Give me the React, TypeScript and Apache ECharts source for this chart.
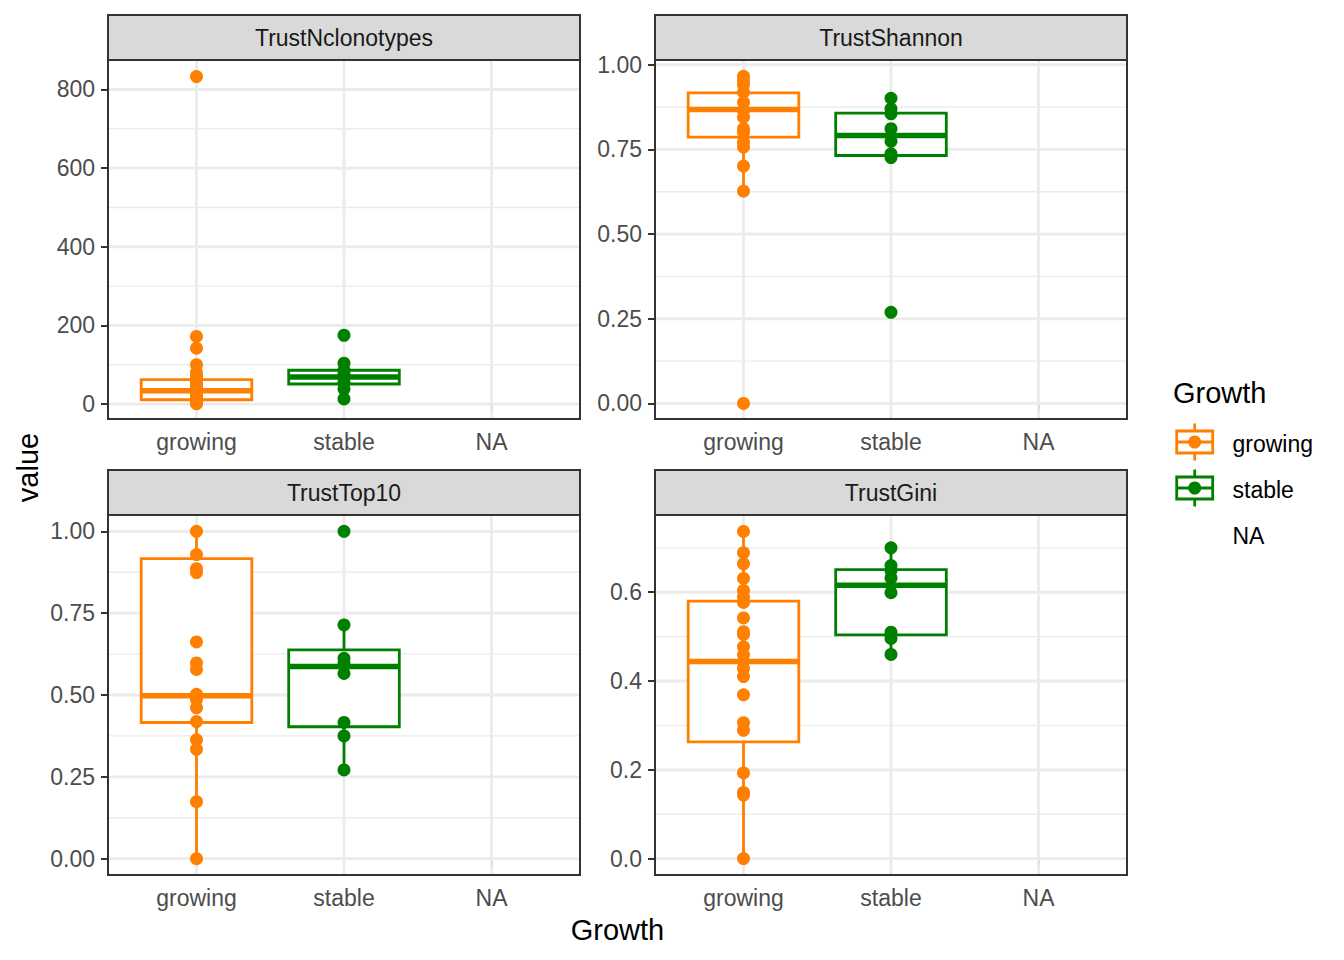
import React, { useEffect, useRef } from "react";
import * as echarts from "echarts";

const categories = ["growing", "stable", "NA"];
const panelTitles = ["TrustNclonotypes", "TrustShannon", "TrustTop10", "TrustGini"];
const groupNames = ["growing", "stable"];
const groupColors = ["#FF7F00", "#008000"];

// individual observations per panel and group
const nclonoGrowing = [833, 172, 142, 100, 80, 72, 64, 56, 48, 42, 37, 34, 30, 25, 20, 15, 11, 8, 6, 4, 2, 1];
const nclonoStable = [175, 104, 86, 76, 66, 54, 38, 13];
const shannonGrowing = [0.966, 0.953, 0.941, 0.919, 0.889, 0.865, 0.845, 0.811, 0.801, 0.771, 0.757, 0.701, 0.627, 0.0];
const shannonStable = [0.901, 0.87, 0.855, 0.811, 0.774, 0.737, 0.726, 0.269];
const top10Growing = [1.0, 0.929, 0.886, 0.874, 0.662, 0.598, 0.578, 0.502, 0.486, 0.461, 0.419, 0.363, 0.334, 0.174, 0.0];
const top10Stable = [1.0, 0.714, 0.612, 0.597, 0.566, 0.416, 0.375, 0.271];
const giniGrowing = [0.737, 0.689, 0.664, 0.631, 0.604, 0.589, 0.577, 0.542, 0.511, 0.505, 0.477, 0.459, 0.444, 0.428, 0.41, 0.369, 0.306, 0.289, 0.193, 0.149, 0.143, 0.0];
const giniStable = [0.7, 0.66, 0.649, 0.632, 0.599, 0.51, 0.496, 0.46];

// boxplot statistics [lower whisker, q1, median, q3, upper whisker]
const nclonoGrowingBox = [1, 11, 34, 62, 100];
const nclonoStableBox = [13, 51, 69, 86, 104];
const shannonGrowingBox = [0.627, 0.786, 0.868, 0.917, 0.966];
const shannonStableBox = [0.726, 0.732, 0.791, 0.857, 0.901];
const top10GrowingBox = [0.0, 0.416, 0.498, 0.917, 1.0];
const top10StableBox = [0.271, 0.403, 0.587, 0.638, 0.714];
const giniGrowingBox = [0.0, 0.263, 0.444, 0.58, 0.737];
const giniStableBox = [0.46, 0.504, 0.616, 0.651, 0.7];

// y scales
const yMins = [-38, -0.046, -0.05, -0.037];
const yMaxs = [875, 1.014, 1.05, 0.774];
const yMajorTicks = [
  [0, 200, 400, 600, 800],
  [0, 0.25, 0.5, 0.75, 1.0],
  [0, 0.25, 0.5, 0.75, 1.0],
  [0, 0.2, 0.4, 0.6],
];
const yMinorTicks = [
  [100, 300, 500, 700],
  [0.125, 0.375, 0.625, 0.875],
  [0.125, 0.375, 0.625, 0.875],
  [0.1, 0.3, 0.5, 0.7],
];
const yDecimals = [0, 2, 2, 1];
const xTicks = [1, 2, 3];

const panelPoints = [
  [nclonoGrowing, nclonoStable],
  [shannonGrowing, shannonStable],
  [top10Growing, top10Stable],
  [giniGrowing, giniStable],
];
const panelBoxes = [
  [nclonoGrowingBox, nclonoStableBox],
  [shannonGrowingBox, shannonStableBox],
  [top10GrowingBox, top10StableBox],
  [giniGrowingBox, giniStableBox],
];

const FONT = "'Liberation Sans', Arial, Helvetica, sans-serif";
const X_MIN = 0.4;
const X_MAX = 3.6;
const BOX_HALF = 0.375;

// layout (pixels)
const panelRects = [
  { left: 108, top: 60, width: 472, height: 359 },
  { left: 655, top: 60, width: 472, height: 359 },
  { left: 108, top: 515, width: 472, height: 360 },
  { left: 655, top: 515, width: 472, height: 360 },
];
const STRIP_H = 45;

export default function App() {
  const ref = useRef<HTMLDivElement>(null);

  useEffect(() => {
    document.body.style.margin = "0";
    if (!ref.current) return;
    const chart = echarts.init(ref.current, undefined, { renderer: "svg" });

    const grids: any[] = [];
    const xAxes: any[] = [];
    const yAxes: any[] = [];
    const series: any[] = [];
    const graphics: any[] = [];

    panelRects.forEach((r, i) => {
      grids.push({ left: r.left, top: r.top, width: r.width, height: r.height, show: false, containLabel: false });
      xAxes.push({
        gridIndex: i,
        type: "value",
        min: X_MIN,
        max: X_MAX,
        axisLine: { show: false },
        axisTick: { show: true, length: 7, lineStyle: { color: "#333333", width: 2 }, customValues: xTicks },
        axisLabel: {
          customValues: xTicks,
          formatter: (v: number) => categories[Math.round(v) - 1] ?? "",
          color: "#4D4D4D",
          fontSize: 23,
          fontFamily: FONT,
          margin: 11.5,
        },
        splitLine: { show: false },
      });
      yAxes.push({
        gridIndex: i,
        type: "value",
        min: yMins[i],
        max: yMaxs[i],
        axisLine: { show: false },
        axisTick: { show: true, length: 7, lineStyle: { color: "#333333", width: 2 }, customValues: yMajorTicks[i] },
        axisLabel: {
          customValues: yMajorTicks[i],
          formatter: (v: number) => v.toFixed(yDecimals[i]),
          color: "#4D4D4D",
          fontSize: 23,
          fontFamily: FONT,
          margin: 13,
        },
        splitLine: { show: false },
      });

      // gridlines
      const lines: number[][] = [];
      yMinorTicks[i].forEach((v) => lines.push([X_MIN, v, X_MAX, v, 1.4]));
      yMajorTicks[i].forEach((v) => lines.push([X_MIN, v, X_MAX, v, 2.8]));
      xTicks.forEach((v) => lines.push([v, yMins[i], v, yMaxs[i], 2.8]));
      series.push({
        type: "custom",
        xAxisIndex: i,
        yAxisIndex: i,
        z: 1,
        silent: true,
        data: lines,
        renderItem: (_p: any, api: any) => {
          const p1 = api.coord([api.value(0), api.value(1)]);
          const p2 = api.coord([api.value(2), api.value(3)]);
          return {
            type: "line",
            shape: { x1: p1[0], y1: p1[1], x2: p2[0], y2: p2[1] },
            style: { stroke: "#EBEBEB", lineWidth: api.value(4) },
          };
        },
      });

      // boxplots
      panelBoxes[i].forEach((b, g) => {
        const color = groupColors[g];
        series.push({
          type: "custom",
          name: groupNames[g],
          xAxisIndex: i,
          yAxisIndex: i,
          z: 2,
          silent: true,
          data: [[g + 1, ...b]],
          renderItem: (_p: any, api: any) => {
            const x = api.value(0);
            const lo = api.coord([x, api.value(1)]);
            const q1 = api.coord([x, api.value(2)]);
            const md = api.coord([x, api.value(3)]);
            const q3 = api.coord([x, api.value(4)]);
            const hi = api.coord([x, api.value(5)]);
            const left = api.coord([x - BOX_HALF, api.value(3)])[0];
            const right = api.coord([x + BOX_HALF, api.value(3)])[0];
            return {
              type: "group",
              children: [
                { type: "line", shape: { x1: q3[0], y1: q3[1], x2: hi[0], y2: hi[1] }, style: { stroke: color, lineWidth: 2.8 } },
                { type: "line", shape: { x1: q1[0], y1: q1[1], x2: lo[0], y2: lo[1] }, style: { stroke: color, lineWidth: 2.8 } },
                {
                  type: "rect",
                  shape: { x: left, y: q3[1], width: right - left, height: q1[1] - q3[1] },
                  style: { fill: "#FFFFFF", stroke: color, lineWidth: 2.8 },
                },
                { type: "line", shape: { x1: left, y1: md[1], x2: right, y2: md[1] }, style: { stroke: color, lineWidth: 5.5 } },
              ],
            };
          },
        });
      });

      // points
      panelPoints[i].forEach((pts, g) => {
        series.push({
          type: "scatter",
          name: groupNames[g],
          xAxisIndex: i,
          yAxisIndex: i,
          z: 3,
          symbol: "circle",
          symbolSize: 13,
          itemStyle: { color: groupColors[g], opacity: 1 },
          data: pts.map((v) => [g + 1, v]),
        });
      });

      // panel border
      graphics.push({
        type: "rect",
        z: 100,
        shape: { x: r.left, y: r.top, width: r.width, height: r.height },
        style: { fill: "none", stroke: "#333333", lineWidth: 2 },
        silent: true,
      });
      // strip
      graphics.push({
        type: "rect",
        z: 100,
        shape: { x: r.left, y: r.top - STRIP_H, width: r.width, height: STRIP_H },
        style: { fill: "#D9D9D9", stroke: "#333333", lineWidth: 2 },
        silent: true,
      });
      graphics.push({
        type: "text",
        z: 101,
        x: r.left + r.width / 2,
        y: r.top - STRIP_H / 2 + 0.5,
        style: {
          text: panelTitles[i],
          fill: "#1A1A1A",
          fontSize: 23,
          fontFamily: FONT,
          align: "center",
          verticalAlign: "middle",
        },
        silent: true,
      });
    });

    // axis titles
    graphics.push({
      type: "text",
      z: 101,
      x: 617.5,
      y: 930,
      style: { text: "Growth", fill: "#000000", fontSize: 29, fontFamily: FONT, align: "center", verticalAlign: "middle" },
    });
    graphics.push({
      type: "text",
      z: 101,
      x: 28,
      y: 467.5,
      rotation: Math.PI / 2,
      style: { text: "value", fill: "#000000", fontSize: 29, fontFamily: FONT, align: "center", verticalAlign: "middle" },
    });

    // legend
    graphics.push({
      type: "text",
      z: 101,
      x: 1173,
      y: 393,
      style: { text: "Growth", fill: "#000000", fontSize: 29, fontFamily: FONT, align: "left", verticalAlign: "middle" },
    });
    const legendRows = [442, 488, 534.5];
    const legendLabels = [...groupNames, "NA"];
    legendLabels.forEach((lab, k) => {
      const cy = legendRows[k];
      if (k < groupColors.length) {
        const c = groupColors[k];
        const cx = 1194.7;
        graphics.push({ type: "line", z: 101, shape: { x1: cx, y1: cy - 18.5, x2: cx, y2: cy + 18.5 }, style: { stroke: c, lineWidth: 2.8 } });
        graphics.push({ type: "rect", z: 101, shape: { x: cx - 18, y: cy - 11, width: 36, height: 22 }, style: { fill: "#FFFFFF", stroke: c, lineWidth: 2.8 } });
        graphics.push({ type: "line", z: 102, shape: { x1: cx - 18, y1: cy, x2: cx + 18, y2: cy }, style: { stroke: c, lineWidth: 2.8 } });
        graphics.push({ type: "circle", z: 103, shape: { cx, cy, r: 6.5 }, style: { fill: c } });
      }
      graphics.push({
        type: "text",
        z: 101,
        x: 1232.5,
        y: cy + 1.5,
        style: { text: lab, fill: "#000000", fontSize: 23, fontFamily: FONT, align: "left", verticalAlign: "middle" },
      });
    });

    chart.setOption({
      animation: false,
      backgroundColor: "#FFFFFF",
      grid: grids,
      xAxis: xAxes,
      yAxis: yAxes,
      series,
      graphic: { elements: graphics },
    });

    return () => chart.dispose();
  }, []);

  return <div ref={ref} style={{ width: 1344, height: 960 }} />;
}
